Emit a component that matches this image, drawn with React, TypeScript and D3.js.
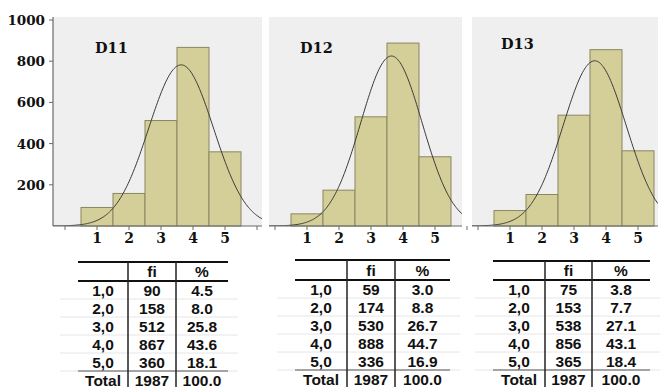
import * as d3 from 'd3';

// values
const categories = [1, 2, 3, 4, 5];
const rowLabels = ['1,0', '2,0', '3,0', '4,0', '5,0'];
const panelNames = ['D11', 'D12', 'D13'];
const freqD11 = [90, 158, 512, 867, 360];
const freqD12 = [59, 174, 530, 888, 336];
const freqD13 = [75, 153, 538, 856, 365];
const pctD11 = ['4.5', '8.0', '25.8', '43.6', '18.1'];
const pctD12 = ['3.0', '8.8', '26.7', '44.7', '16.9'];
const pctD13 = ['3.8', '7.7', '27.1', '43.1', '18.4'];
const totalN = ['1987', '1987', '1987'];
const totalPct = ['100.0', '100.0', '100.0'];
const yTicks = [200, 400, 600, 800, 1000];
const xTicks = [0, 1, 2, 3, 4, 5, 6];

const freqs = [freqD11, freqD12, freqD13];
const pcts = [pctD11, pctD12, pctD13];

// layout
const W = 661;
const H = 387;
const base = 226;
const panels = [
  { x0: 53, x1: 262, one: 97, top: 17, label: [95, 53] },
  { x0: 269, x1: 462, one: 307, top: 17, label: [300, 53] },
  { x0: 472, x1: 658, one: 510, top: 17, label: [501, 49] },
];
const tables = [
  { left: 78, right: 228, d1: 128, d2: 176, top: 262, hb: 281 },
  { left: 295, right: 450, d1: 347, d2: 395, top: 260, hb: 280 },
  { left: 493, right: 650, d1: 545, d2: 592, top: 261, hb: 280 },
];
const rowH = 18;

const serif = '"DejaVu Serif", serif';
const sans = '"Liberation Sans", Arial, sans-serif';

const y = d3.scaleLinear().domain([0, 1000]).range([base, 20]);

const Panel = ({ idx }: { idx: number }) => {
  const p = panels[idx];
  const data = freqs[idx];
  const x = d3.scaleLinear().domain([0, 6]).range([p.one - 32, p.one + 160]);
  // normal curve fitted to the frequencies
  const n = d3.sum(data);
  const mean = d3.sum(data, (d, i) => d * categories[i]) / n;
  const variance = d3.sum(data, (d, i) => d * (categories[i] - mean) ** 2) / n;
  const sd = Math.sqrt(variance);
  const lo = x.invert(p.x0);
  const hi = x.invert(p.x1);
  const pts = d3.range(0, 201).map((k) => {
    const v = lo + ((hi - lo) * k) / 200;
    const dens = (n / (sd * Math.sqrt(2 * Math.PI))) * Math.exp(-((v - mean) ** 2) / (2 * variance));
    return [v, dens] as [number, number];
  });
  const line = d3.line<[number, number]>().x((d) => x(d[0])).y((d) => y(d[1])).curve(d3.curveBasis);
  const clipId = `clip${idx}`;
  return (
    <g>
      <defs>
        <clipPath id={clipId}>
          <rect x={p.x0} y={p.top} width={p.x1 - p.x0} height={base - p.top} />
        </clipPath>
      </defs>
      <rect x={p.x0} y={p.top} width={p.x1 - p.x0} height={base - p.top} fill="#efefef" />
      {data.map((d, i) => (
        <rect
          key={i}
          x={x(categories[i] - 0.5)}
          y={y(d)}
          width={x(categories[i] + 0.5) - x(categories[i] - 0.5)}
          height={base - y(d)}
          fill="#d4cf99"
          stroke="#8a8660"
          strokeWidth={1}
        />
      ))}
      <path d={line(pts) || ''} fill="none" stroke="#3a3a3a" strokeWidth={1} clipPath={`url(#${clipId})`} />
      <line x1={p.x0} x2={p.x1} y1={base} y2={base} stroke="#6a6a6a" strokeWidth={1.2} />
      {xTicks.map((t) => (
        <line key={t} x1={x(t)} x2={x(t)} y1={base} y2={base + 4} stroke="#6a6a6a" />
      ))}
      {categories.map((c) => (
        <text key={c} x={x(c)} y={243} textAnchor="middle" fontFamily={serif} fontWeight="bold" fontSize={14} fill="#111">
          {c}
        </text>
      ))}
      <text x={p.label[0]} y={p.label[1]} fontFamily={serif} fontWeight="bold" fontSize={14.5} fill="#111">
        {panelNames[idx]}
      </text>
    </g>
  );
};

const Table = ({ idx }: { idx: number }) => {
  const t = tables[idx];
  const c1 = (t.left + t.d1) / 2;
  const c2 = (t.d1 + t.d2) / 2;
  const c3 = (t.d2 + t.right) / 2;
  const rows = categories.map((_, i) => ({ a: rowLabels[i], b: String(freqs[idx][i]), c: pcts[idx][i] }));
  rows.push({ a: 'Total', b: totalN[idx], c: totalPct[idx] });
  const txt = (s: string, cx: number, cy: number, k: string) => (
    <text key={k} x={cx} y={cy + 5.5} textAnchor="middle" fontFamily={sans} fontWeight="bold" fontSize={15.5} fill="#111">
      {s}
    </text>
  );
  return (
    <g>
      {rows.map((_, i) => (
        <line key={`g${i}`} x1={t.left - 18} x2={t.right + 10} y1={t.hb + rowH * (i + 1)} y2={t.hb + rowH * (i + 1)} stroke="#e6e6e6" />
      ))}
      <line x1={t.left} x2={t.right} y1={t.top} y2={t.top} stroke="#111" strokeWidth={2} />
      <line x1={t.left} x2={t.right} y1={t.hb} y2={t.hb} stroke="#111" strokeWidth={2} />
      <line x1={t.left} x2={t.right} y1={t.hb + rowH * 5} y2={t.hb + rowH * 5} stroke="#555" strokeWidth={1} />
      <line x1={t.d1} x2={t.d1} y1={t.top} y2={H} stroke="#222" strokeWidth={1.5} />
      <line x1={t.d2} x2={t.d2} y1={t.top} y2={H} stroke="#222" strokeWidth={1.5} />
      {txt('fi', c2, (t.top + t.hb) / 2, 'hf')}
      {txt('%', c3, (t.top + t.hb) / 2, 'hp')}
      {rows.map((r, i) => {
        const cy = t.hb + rowH * i + rowH / 2;
        return (
          <g key={i}>
            {txt(r.a, c1, cy, 'a')}
            {txt(r.b, c2, cy, 'b')}
            {txt(r.c, c3, cy, 'c')}
          </g>
        );
      })}
    </g>
  );
};

export default function App() {
  return (
    <svg width={W} height={H} style={{ position: 'absolute', left: 0, top: 0, background: '#fff' }}>
      {[0, 1, 2].map((i) => (
        <Panel key={i} idx={i} />
      ))}
      {/* y axis, only on the first panel */}
      <line x1={53} x2={53} y1={17} y2={base} stroke="#6a6a6a" strokeWidth={1.2} />
      {yTicks.map((t) => (
        <g key={t}>
          <line x1={49} x2={53} y1={y(t)} y2={y(t)} stroke="#6a6a6a" />
          <text x={45} y={y(t) + 5} textAnchor="end" fontFamily={serif} fontWeight="bold" fontSize={13.5} fill="#111">
            {t}
          </text>
        </g>
      ))}
      {[0, 1, 2].map((i) => (
        <Table key={i} idx={i} />
      ))}
    </svg>
  );
}
